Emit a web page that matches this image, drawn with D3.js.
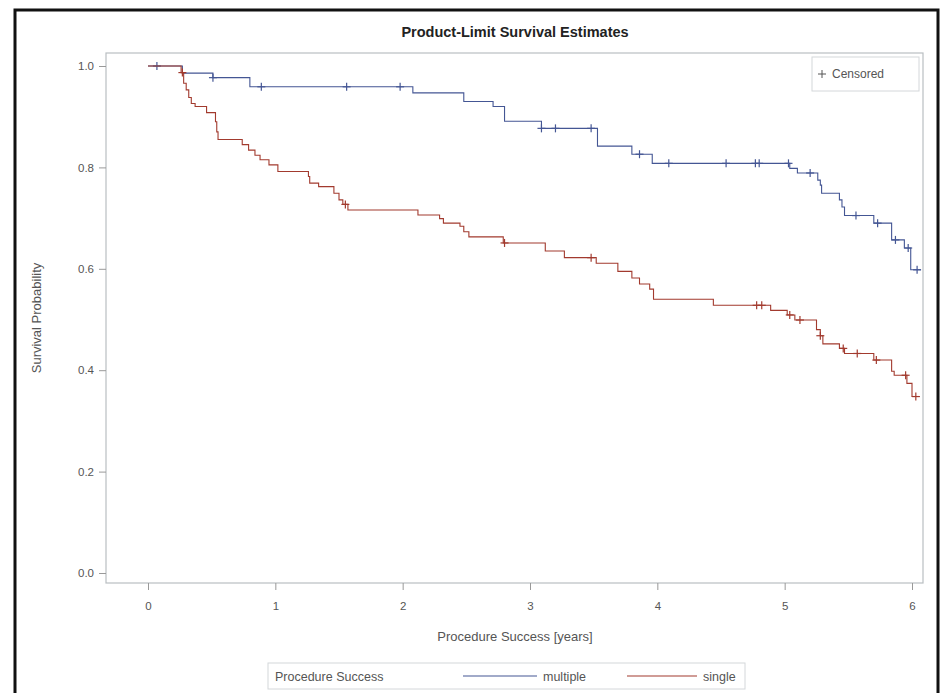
<!DOCTYPE html>
<html>
<head>
<meta charset="utf-8">
<script src="https://cdn.jsdelivr.net/npm/d3@7"></script>
<style>
  html, body { margin: 0; padding: 0; background: #fff; }
  svg { display: block; font-family: "Liberation Sans", Arial, sans-serif; }
</style>
</head>
<body>
<svg id="chart" width="940" height="693"></svg>
<script>
// Kaplan-Meier estimates by procedure success group (time in years)
const multipleTimes = [0, 0.27, 0.51, 0.80, 2.08, 2.48, 2.71, 2.80, 3.09, 3.53, 3.80, 3.96, 5.04, 5.10, 5.26, 5.28, 5.29, 5.43, 5.45, 5.47, 5.70, 5.84, 5.94, 5.99, 6.07];
const multipleSurv  = [1.0, 0.986, 0.977, 0.959, 0.947, 0.930, 0.920, 0.891, 0.877, 0.842, 0.826, 0.808, 0.798, 0.789, 0.775, 0.765, 0.749, 0.736, 0.722, 0.705, 0.690, 0.657, 0.641, 0.598, 0.598];
const multipleCensored = [0.07, 0.51, 0.89, 1.56, 1.98, 3.09, 3.20, 3.48, 3.86, 4.09, 4.54, 4.77, 4.80, 5.03, 5.20, 5.56, 5.73, 5.87, 5.97, 6.04];

const singleTimes = [0, 0.26, 0.28, 0.30, 0.32, 0.34, 0.37, 0.46, 0.53, 0.54, 0.55, 0.74, 0.79, 0.84, 0.88, 0.95, 1.02, 1.26, 1.27, 1.34, 1.46, 1.50, 1.53, 1.57, 2.12, 2.29, 2.32, 2.45, 2.48, 2.52, 2.79, 3.12, 3.27, 3.52, 3.69, 3.80, 3.86, 3.94, 3.97, 4.44, 4.89, 5.02, 5.08, 5.25, 5.28, 5.30, 5.43, 5.47, 5.70, 5.84, 5.86, 5.96, 6.00, 6.06];
const singleSurv  = [1.0, 0.987, 0.966, 0.953, 0.938, 0.926, 0.920, 0.908, 0.890, 0.870, 0.855, 0.845, 0.834, 0.824, 0.815, 0.805, 0.792, 0.782, 0.769, 0.762, 0.749, 0.736, 0.727, 0.716, 0.706, 0.699, 0.690, 0.684, 0.673, 0.663, 0.651, 0.635, 0.622, 0.611, 0.595, 0.582, 0.570, 0.560, 0.540, 0.528, 0.518, 0.509, 0.499, 0.480, 0.468, 0.452, 0.443, 0.433, 0.420, 0.398, 0.390, 0.374, 0.348, 0.348];
const singleCensored = [0.27, 1.55, 2.80, 3.48, 4.78, 4.82, 5.04, 5.12, 5.28, 5.46, 5.57, 5.72, 5.95, 6.03];

const xTicks = [0, 1, 2, 3, 4, 5, 6];
const yTicks = [0.0, 0.2, 0.4, 0.6, 0.8, 1.0];

const groups = [
  { name: "multiple", times: multipleTimes, surv: multipleSurv, censored: multipleCensored, color: "#445694" },
  { name: "single",   times: singleTimes,   surv: singleSurv,   censored: singleCensored,   color: "#A23A2E" }
];

const svg = d3.select("#chart");
const frame = { left: 106, right: 923, top: 53, bottom: 583 };

const x = d3.scaleLinear().domain([0, 6]).range([148, 912]);
const y = d3.scaleLinear().domain([0, 1]).range([573, 66]);

// outer border
svg.append("rect")
  .attr("x", 15).attr("y", 10).attr("width", 923).attr("height", 700)
  .attr("fill", "none").attr("stroke", "#111").attr("stroke-width", 3);

// title
svg.append("text")
  .attr("x", 515).attr("y", 37)
  .attr("text-anchor", "middle")
  .attr("font-size", 14.5).attr("font-weight", "bold").attr("fill", "#222")
  .text("Product-Limit Survival Estimates");

// plot frame
svg.append("rect")
  .attr("x", frame.left).attr("y", frame.top)
  .attr("width", frame.right - frame.left).attr("height", frame.bottom - frame.top)
  .attr("fill", "#fff").attr("stroke", "#b9bec2").attr("stroke-width", 1.2);

// y axis
const yAxis = d3.axisLeft(y).tickValues(yTicks).tickFormat(d3.format(".1f")).tickSize(7).tickPadding(5);
const gy = svg.append("g").attr("transform", `translate(${frame.left},0)`).call(yAxis);
gy.select(".domain").remove();
gy.selectAll(".tick line").attr("stroke", "#999");
gy.selectAll(".tick text").attr("fill", "#555").attr("font-size", 11.5)
  .attr("font-family", "Liberation Sans, Arial, sans-serif");

// x axis
const xAxis = d3.axisBottom(x).tickValues(xTicks).tickFormat(d3.format("d")).tickSize(7).tickPadding(12);
const gx = svg.append("g").attr("transform", `translate(0,${frame.bottom})`).call(xAxis);
gx.select(".domain").remove();
gx.selectAll(".tick line").attr("stroke", "#999");
gx.selectAll(".tick text").attr("fill", "#555").attr("font-size", 11.5)
  .attr("font-family", "Liberation Sans, Arial, sans-serif");

// axis labels
svg.append("text")
  .attr("x", 515).attr("y", 641)
  .attr("text-anchor", "middle").attr("font-size", 13).attr("fill", "#555")
  .text("Procedure Success [years]");
svg.append("text")
  .attr("transform", "translate(41,318) rotate(-90)")
  .attr("text-anchor", "middle").attr("font-size", 13).attr("fill", "#555")
  .text("Survival Probability");

// survival step curves
const line = d3.line()
  .x(d => x(d[0]))
  .y(d => y(d[1]))
  .curve(d3.curveStepAfter);

function survAt(g, t) {
  const i = d3.bisectRight(g.times, t) - 1;
  return g.surv[Math.max(0, i)];
}

groups.forEach(g => {
  const pts = g.times.map((t, i) => [t, g.surv[i]]);
  svg.append("path")
    .datum(pts)
    .attr("d", line)
    .attr("fill", "none")
    .attr("stroke", g.color)
    .attr("stroke-width", 1.1);

  // censoring marks (+)
  const marks = svg.append("g").attr("stroke", g.color).attr("stroke-width", 1.2);
  g.censored.forEach(t => {
    const cx = x(t), cy = y(survAt(g, t));
    marks.append("line").attr("x1", cx).attr("x2", cx).attr("y1", cy - 4).attr("y2", cy + 4);
    marks.append("line").attr("x1", cx - 4).attr("x2", cx + 4).attr("y1", cy).attr("y2", cy);
  });
});

// censored legend (inside top-right)
const cl = svg.append("g");
cl.append("rect")
  .attr("x", 812).attr("y", 57).attr("width", 107).attr("height", 34)
  .attr("fill", "#fff").attr("stroke", "#d4d7da").attr("stroke-width", 1);
cl.append("line").attr("x1", 818).attr("x2", 826).attr("y1", 74).attr("y2", 74).attr("stroke", "#555");
cl.append("line").attr("x1", 822).attr("x2", 822).attr("y1", 70).attr("y2", 78).attr("stroke", "#555");
cl.append("text")
  .attr("x", 832).attr("y", 78).attr("font-size", 12).attr("fill", "#555")
  .text("Censored");

// group legend (bottom)
const lg = svg.append("g");
lg.append("rect")
  .attr("x", 268).attr("y", 663).attr("width", 477).attr("height", 26)
  .attr("fill", "#fff").attr("stroke", "#d4d7da").attr("stroke-width", 1);
lg.append("text")
  .attr("x", 275).attr("y", 681).attr("font-size", 12.5).attr("fill", "#555")
  .text("Procedure Success");
const legendItems = [
  { g: groups[0], x1: 463, x2: 537, tx: 543 },
  { g: groups[1], x1: 627, x2: 697, tx: 703 }
];
legendItems.forEach(it => {
  lg.append("line")
    .attr("x1", it.x1).attr("x2", it.x2).attr("y1", 676).attr("y2", 676)
    .attr("stroke", it.g.color).attr("stroke-width", 1.1);
  lg.append("text")
    .attr("x", it.tx).attr("y", 681).attr("font-size", 12.5).attr("fill", "#555")
    .text(it.g.name);
});
</script>
</body>
</html>
